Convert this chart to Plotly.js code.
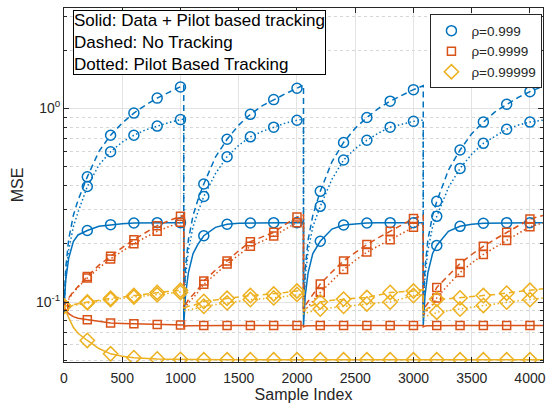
<!DOCTYPE html>
<html><head><meta charset="utf-8">
<script src="https://cdn.plot.ly/plotly-3.0.1.min.js"></script>
<style>html,body{margin:0;padding:0;background:#fff}</style>
</head><body><div id="chart" style="width:549px;height:408px"></div>
<script>
// Sample index grid (block restarts repeat the x value)
const sampleIdx = [
  0, 15, 40, 80, 120, 200, 300, 400, 500, 600, 700, 800, 900, 1000, 1028,
  1028, 1043, 1068, 1108, 1148, 1200, 1300, 1400, 1500, 1600, 1700, 1800, 1900, 2000, 2056,
  2056, 2071, 2096, 2136, 2200, 2300, 2400, 2500, 2600, 2700, 2800, 2900, 3000, 3084,
  3084, 3099, 3124, 3164, 3200, 3300, 3400, 3500, 3600, 3700, 3800, 3900, 4000, 4112
];
// rho = 0.999
const b999NoTrack = [
  0.095, 0.15, 0.21, 0.28, 0.335, 0.443, 0.6, 0.727, 0.84, 0.946, 1.04, 1.13, 1.21, 1.29, 1.32,
  0.092, 0.15, 0.21, 0.28, 0.335, 0.407, 0.56, 0.693, 0.82, 0.932, 1.03, 1.11, 1.19, 1.27, 1.32,
  0.092, 0.15, 0.21, 0.28, 0.373, 0.53, 0.667, 0.79, 0.897, 1.0, 1.09, 1.17, 1.25, 1.31,
  0.092, 0.15, 0.21, 0.28, 0.331, 0.48, 0.61, 0.74, 0.85, 0.96, 1.05, 1.14, 1.22, 1.3
];
const b999Pilot = [
  0.095, 0.135, 0.185, 0.245, 0.29, 0.395, 0.51, 0.597, 0.67, 0.727, 0.775, 0.81, 0.845, 0.875, 0.88,
  0.092, 0.135, 0.185, 0.245, 0.29, 0.351, 0.46, 0.563, 0.645, 0.713, 0.76, 0.80, 0.84, 0.868, 0.88,
  0.092, 0.135, 0.185, 0.245, 0.312, 0.43, 0.541, 0.62, 0.685, 0.745, 0.80, 0.83, 0.857, 0.87,
  0.092, 0.135, 0.185, 0.245, 0.277, 0.39, 0.49, 0.58, 0.66, 0.72, 0.78, 0.82, 0.85, 0.87
];
const b999DataPilot = [
  0.095, 0.13, 0.168, 0.205, 0.222, 0.234, 0.246, 0.251, 0.254, 0.256, 0.257, 0.257, 0.257, 0.257, 0.257,
  0.0756, 0.108, 0.142, 0.178, 0.198, 0.22, 0.243, 0.252, 0.255, 0.256, 0.257, 0.257, 0.257, 0.257, 0.257,
  0.0756, 0.108, 0.142, 0.178, 0.206, 0.238, 0.25, 0.254, 0.256, 0.257, 0.257, 0.257, 0.257, 0.257,
  0.0756, 0.108, 0.142, 0.178, 0.196, 0.232, 0.246, 0.252, 0.255, 0.256, 0.257, 0.257, 0.257, 0.257
];
// rho = 0.9999
const b9999NoTrack = [
  0.095, 0.099, 0.105, 0.113, 0.12, 0.1355, 0.155, 0.1725, 0.191, 0.21, 0.229, 0.248, 0.263, 0.277, 0.281,
  0.093, 0.097, 0.103, 0.109, 0.116, 0.1285, 0.146, 0.163, 0.184, 0.205, 0.217, 0.229, 0.252, 0.275, 0.282,
  0.092, 0.096, 0.101, 0.109, 0.124, 0.143, 0.163, 0.18, 0.198, 0.215, 0.232, 0.25, 0.27, 0.28,
  0.09, 0.094, 0.099, 0.107, 0.119, 0.138, 0.158, 0.176, 0.194, 0.211, 0.229, 0.248, 0.268, 0.28
];
const b9999Pilot = [
  0.095, 0.098, 0.104, 0.112, 0.119, 0.133, 0.15, 0.167, 0.183, 0.2, 0.216, 0.232, 0.245, 0.258, 0.262,
  0.091, 0.094, 0.099, 0.105, 0.112, 0.1235, 0.14, 0.157, 0.175, 0.194, 0.206, 0.219, 0.238, 0.257, 0.263,
  0.088, 0.091, 0.095, 0.101, 0.112, 0.129, 0.147, 0.164, 0.181, 0.195, 0.21, 0.226, 0.243, 0.255,
  0.085, 0.088, 0.091, 0.097, 0.105, 0.123, 0.142, 0.159, 0.176, 0.192, 0.208, 0.226, 0.245, 0.256
];
const b9999DataPilot = [
  0.095, 0.091, 0.087, 0.084, 0.0825, 0.081, 0.0795, 0.078, 0.0775, 0.0772, 0.0768, 0.0765, 0.0762, 0.076, 0.076,
  0.0745, 0.0752, 0.0755, 0.0756, 0.0757, 0.0757, 0.0757, 0.0757, 0.0757, 0.0757, 0.0757, 0.0757, 0.0757, 0.0757, 0.0757,
  0.0745, 0.0752, 0.0755, 0.0756, 0.0757, 0.0757, 0.0757, 0.0757, 0.0757, 0.0757, 0.0757, 0.0757, 0.0757, 0.0757,
  0.0745, 0.0752, 0.0755, 0.0756, 0.0757, 0.0757, 0.0757, 0.0757, 0.0757, 0.0757, 0.0757, 0.0757, 0.0757, 0.0757
];
// rho = 0.99999
const b99999NoTrack = [
  0.095, 0.0955, 0.096, 0.097, 0.098, 0.1, 0.102, 0.1045, 0.106, 0.108, 0.11, 0.112, 0.1135, 0.115, 0.116,
  0.093, 0.094, 0.095, 0.096, 0.098, 0.1007, 0.1025, 0.1045, 0.106, 0.108, 0.109, 0.11, 0.112, 0.114, 0.115,
  0.09, 0.092, 0.094, 0.096, 0.1, 0.102, 0.1035, 0.1045, 0.1055, 0.109, 0.112, 0.113, 0.114, 0.116,
  0.088, 0.09, 0.093, 0.096, 0.1035, 0.104, 0.105, 0.1065, 0.108, 0.1095, 0.111, 0.113, 0.115, 0.117
];
const b99999Pilot = [
  0.095, 0.095, 0.0955, 0.096, 0.097, 0.099, 0.101, 0.103, 0.1045, 0.106, 0.1075, 0.109, 0.1105, 0.112, 0.113,
  0.09, 0.0905, 0.091, 0.092, 0.093, 0.095, 0.097, 0.099, 0.101, 0.103, 0.104, 0.105, 0.107, 0.1095, 0.11,
  0.087, 0.0875, 0.088, 0.089, 0.092, 0.0935, 0.095, 0.0965, 0.0977, 0.099, 0.1, 0.104, 0.108, 0.109,
  0.084, 0.0845, 0.085, 0.086, 0.0886, 0.09, 0.092, 0.094, 0.096, 0.098, 0.1, 0.1015, 0.103, 0.105
];
const b99999DataPilot = [
  0.095, 0.09, 0.083, 0.074, 0.069, 0.0633, 0.0575, 0.054, 0.0525, 0.0516, 0.0511, 0.0508, 0.0506, 0.0505, 0.0505,
  0.0503, 0.0503, 0.0503, 0.0503, 0.0503, 0.0503, 0.0503, 0.0503, 0.0503, 0.0503, 0.0503, 0.0503, 0.0503, 0.0503, 0.0503,
  0.0503, 0.0503, 0.0503, 0.0503, 0.0503, 0.0503, 0.0503, 0.0503, 0.0503, 0.0503, 0.0503, 0.0503, 0.0503, 0.0503,
  0.0503, 0.0503, 0.0503, 0.0503, 0.0503, 0.0503, 0.0503, 0.0503, 0.0503, 0.0503, 0.0503, 0.0503, 0.0503, 0.0503
];
const legendNames = ['\u03c1=0.999', '\u03c1=0.9999', '\u03c1=0.99999'];
const xTickVals = [0, 500, 1000, 1500, 2000, 2500, 3000, 3500, 4000];
const yTickVals = [0.1, 1];
const yTickText = ['10<sup>-1</sup>', '10<sup>0</sup>'];
const yMinorVals = [0.05, 0.06, 0.07, 0.08, 0.09, 0.2, 0.3, 0.4, 0.5, 0.6, 0.7, 0.8, 0.9, 2, 3];

const colors = ['#0072BD', '#D95319', '#EDB120'];
const symbols = ['circle-open', 'square-open', 'diamond-open'];
const msizes = [10, 8, 11];
const groups = [
  [b999DataPilot, b999NoTrack, b999Pilot],
  [b9999DataPilot, b9999NoTrack, b9999Pilot],
  [b99999DataPilot, b99999NoTrack, b99999Pilot]
];
const dashes = ['solid', '6px,4px', '1.5px,2.5px'];

const traces = [];
const markIdx = sampleIdx.map((x, i) => i).filter(i => {
  const x = sampleIdx[i];
  return x % 200 === 0 && sampleIdx.indexOf(x) === i;
});
groups.forEach((g, gi) => {
  g.forEach((ys, ci) => {
    traces.push({
      x: sampleIdx, y: ys, mode: 'lines', type: 'scatter', showlegend: false,
      line: {color: colors[gi], width: 1.5, dash: dashes[ci]}, hoverinfo: 'skip'
    });
  });
});
groups.forEach((g, gi) => {
  g.forEach((ys, ci) => {
    traces.push({
      x: markIdx.map(i => sampleIdx[i]), y: markIdx.map(i => ys[i]),
      mode: 'markers', type: 'scatter', name: legendNames[gi],
      showlegend: ci === 0,
      marker: {symbol: symbols[gi], size: msizes[gi], color: colors[gi], line: {color: colors[gi], width: 1.5}}
    });
  });
});

const axisCol = '#262626';
const layout = {
  width: 549, height: 408,
  margin: {l: 64, r: 6, t: 8, b: 46},
  paper_bgcolor: '#fff', plot_bgcolor: '#fff',
  font: {family: '"Liberation Sans", Arial, sans-serif', size: 14, color: axisCol},
  showlegend: true,
  xaxis: {
    range: [0, 4112], tickvals: xTickVals, ticks: 'inside', ticklen: 5, tickcolor: axisCol,
    showline: true, linecolor: axisCol, linewidth: 1, mirror: 'allticks', automargin: false,
    showgrid: true, gridcolor: '#e3e3e3', gridwidth: 1, zeroline: false,
    tickfont: {size: 14, color: axisCol}, ticklabelstandoff: 3,
    title: {text: 'Sample Index', font: {size: 16, color: axisCol}, standoff: 4}
  },
  yaxis: {
    type: 'log', range: [Math.log10(0.049), Math.log10(3.3)], automargin: false,
    tickmode: 'array', tickvals: yTickVals, ticktext: yTickText,
    ticks: 'inside', ticklen: 5, tickcolor: axisCol,
    showline: true, linecolor: axisCol, linewidth: 1, mirror: 'allticks',
    showgrid: true, gridcolor: '#e3e3e3', gridwidth: 1, zeroline: false,
    tickfont: {size: 14, color: axisCol},
    minor: {tickmode: 'array', tickvals: yMinorVals, ticks: 'inside', ticklen: 3, tickcolor: axisCol,
            showgrid: true, gridcolor: '#d6d6d6', griddash: 'dot', gridwidth: 1},
    title: {text: 'MSE', font: {size: 16, color: axisCol}, standoff: 8}
  },
  legend: {
    x: 0.765, y: 0.982, xanchor: 'left', yanchor: 'top',
    bgcolor: '#fff', bordercolor: axisCol, borderwidth: 1,
    font: {size: 13.5, color: axisCol}, tracegroupgap: 0, itemwidth: 30
  },
  annotations: [{
    xref: 'paper', yref: 'paper', x: 0.018, y: 0.994, xanchor: 'left', yanchor: 'top',
    align: 'left', showarrow: false,
    text: 'Solid: Data + Pilot based tracking<br>Dashed: No Tracking<br>Dotted: Pilot Based Tracking',
    font: {size: 17, color: '#000'}, bgcolor: '#fff', bordercolor: '#000', borderwidth: 1, borderpad: 0
  }]
};
Plotly.newPlot('chart', traces, layout, {displayModeBar: false, staticPlot: true});
</script>
</body></html>
